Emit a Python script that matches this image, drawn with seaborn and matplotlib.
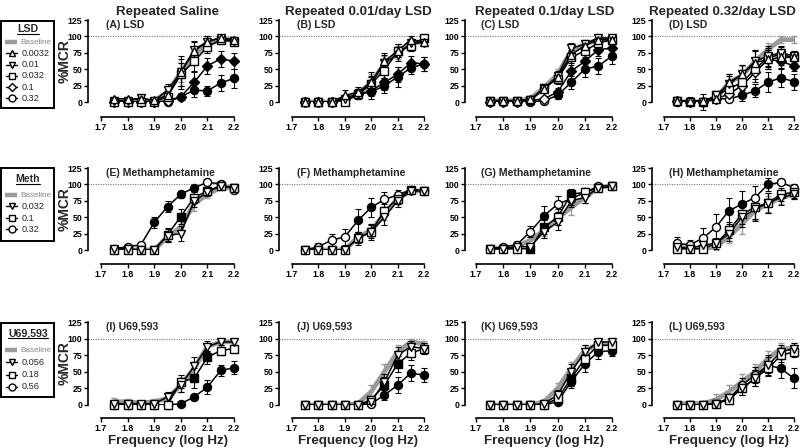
import matplotlib
matplotlib.use("Agg")
import matplotlib.pyplot as plt
import seaborn as sns

sns.set_theme(style="ticks")
plt.rcParams["font.family"] = ["Liberation Sans", "DejaVu Sans"]
plt.rcParams["font.weight"] = "bold"
plt.rcParams["axes.labelweight"] = "bold"

# ---------------- data ----------------
FREQ = [1.75, 1.80, 1.85, 1.90, 1.95, 2.00, 2.05, 2.10, 2.15, 2.20]
XTICKS = [1.7, 1.8, 1.9, 2.0, 2.1, 2.2]
XTICKLABELS = ["1.7", "1.8", "1.9", "2.0", "2.1", "2.2"]
YTICKS = [0, 25, 50, 75, 100, 125]
COL_TITLES = ["Repeated Saline", "Repeated 0.01/day LSD",
              "Repeated 0.1/day LSD", "Repeated 0.32/day LSD"]
ROW_DRUGS = ["LSD", "Meth", "U69,593"]
PANEL_TITLES = [["(A) LSD", "(B) LSD", "(C) LSD", "(D) LSD"],
                ["(E) Methamphetamine", "(F) Methamphetamine",
                 "(G) Methamphetamine", "(H) Methamphetamine"],
                ["(I) U69,593", "(J) U69,593", "(K) U69,593", "(L) U69,593"]]
LSD_DOSES = ["0.0032", "0.01", "0.032", "0.1", "0.32"]
LSD_MARKERS = ["^", "v", "s", "D", "o"]
METH_DOSES = ["0.032", "0.1", "0.32"]
METH_MARKERS = ["v", "s", "o"]
U69_DOSES = ["0.056", "0.18", "0.56"]
U69_MARKERS = ["v", "s", "o"]

# Panel A
A_BASE = [2, 2, 2, 2, 15, 45, 72, 88, 95, 95]
A_BASE_ERR = [2, 2, 2, 3, 8, 15, 12, 8, 4, 4]
A_MEANS = [[5, 5, 4, 3, 10, 45, 78, 92, 98, 95],
           [2, 2, 6, 2, 18, 45, 80, 92, 98, 93],
           [0, 0, 0, 0, 8, 42, 62, 84, 95, 92],
           [0, 0, 0, 0, 2, 8, 30, 55, 66, 62],
           [0, 0, 0, 0, 0, 8, 18, 17, 29, 36]]
A_ERRS = [[3, 3, 3, 3, 8, 25, 15, 8, 4, 4],
          [2, 2, 4, 2, 10, 20, 12, 8, 3, 4],
          [0, 0, 0, 0, 6, 18, 15, 10, 4, 5],
          [0, 0, 0, 0, 2, 5, 15, 12, 12, 12],
          [0, 0, 0, 0, 0, 4, 10, 8, 12, 14]]
A_FILLED = [[], [], [], [5, 6, 7, 8, 9], [5, 6, 7, 8, 9]]

# Panel B
B_BASE = [0, 0, 0, 5, 12, 30, 58, 75, 90, 92]
B_BASE_ERR = [0, 0, 0, 4, 6, 12, 12, 10, 6, 5]
B_MEANS = [[0, 0, 0, 10, 15, 30, 62, 78, 95, 92],
           [0, 0, 0, 5, 12, 28, 60, 72, 90, 90],
           [0, 0, 0, 0, 12, 28, 48, 78, 85, 98],
           [0, 0, 0, 5, 12, 17, 30, 42, 60, 58],
           [0, 0, 0, 5, 12, 15, 25, 38, 52, 58]]
B_ERRS = [[0, 0, 0, 8, 8, 15, 12, 10, 5, 5],
          [0, 0, 0, 5, 8, 12, 12, 10, 5, 5],
          [0, 0, 0, 2, 8, 10, 12, 10, 8, 3],
          [0, 0, 0, 4, 8, 8, 12, 12, 10, 10],
          [0, 0, 0, 4, 8, 10, 12, 15, 10, 10]]
B_FILLED = [[], [], [], [5, 6, 7, 8, 9], [5, 6, 7, 8, 9]]

# Panel C
C_BASE = [2, 2, 2, 5, 22, 42, 78, 88, 95, 95]
C_BASE_ERR = [2, 2, 2, 3, 5, 8, 8, 5, 4, 3]
C_MEANS = [[2, 2, 2, 4, 20, 38, 72, 86, 95, 95],
           [2, 2, 2, 3, 20, 40, 82, 88, 98, 97],
           [2, 2, 2, 3, 22, 35, 68, 78, 90, 95],
           [0, 0, 0, 2, 5, 15, 47, 62, 80, 82],
           [0, 0, 0, 0, 2, 10, 30, 50, 55, 70]]
C_ERRS = [[2, 2, 2, 3, 5, 8, 10, 8, 4, 4],
          [2, 2, 2, 3, 5, 8, 8, 6, 3, 3],
          [2, 2, 2, 3, 5, 8, 12, 10, 6, 4],
          [0, 0, 0, 2, 3, 6, 12, 12, 10, 8],
          [0, 0, 0, 0, 2, 5, 10, 12, 12, 12]]
C_FILLED = [[], [], [], [5, 6, 7, 8, 9], [5, 6, 7, 8, 9]]

# Panel D
D_BASE = [0, 0, 0, 5, 30, 40, 62, 80, 95, 95]
D_BASE_ERR = [2, 2, 2, 5, 12, 15, 18, 10, 5, 5]
D_MEANS = [[2, 2, 2, 5, 30, 42, 60, 65, 68, 68],
           [2, 0, 0, 10, 28, 42, 62, 70, 75, 70],
           [2, 0, 0, 10, 20, 30, 50, 68, 72, 68],
           [2, 0, 0, 5, 12, 25, 45, 65, 62, 55],
           [0, 0, 0, 5, 5, 10, 17, 30, 37, 31]]
D_ERRS = [[3, 5, 3, 4, 12, 15, 18, 15, 12, 10],
          [3, 4, 12, 4, 12, 15, 18, 15, 10, 8],
          [3, 4, 3, 4, 10, 14, 15, 15, 12, 8],
          [3, 3, 3, 3, 8, 12, 15, 15, 10, 8],
          [0, 0, 0, 3, 5, 8, 10, 15, 14, 12]]
D_FILLED = [[], [], [], [8, 9], [5, 6, 7, 8, 9]]

# Panel E
E_BASE = [0, 0, 0, 0, 20, 35, 70, 85, 95, 95]
E_BASE_ERR = [2, 2, 2, 2, 8, 10, 10, 6, 4, 4]
E_MEANS = [[2, 2, 0, 0, 22, 25, 75, 88, 98, 95],
           [0, 0, 0, 0, 23, 51, 80, 90, 98, 95],
           [2, 5, 8, 42, 66, 85, 95, 103, 101, 92]]
E_ERRS = [[2, 2, 2, 2, 10, 12, 10, 6, 4, 5],
          [0, 0, 0, 0, 10, 12, 8, 6, 4, 5],
          [2, 2, 3, 8, 8, 5, 4, 3, 4, 5]]
E_FILLED = [[], [5], [3, 4, 5, 6]]

# Panel F
F_BASE = [0, 0, 0, 0, 20, 30, 55, 78, 90, 90]
F_BASE_ERR = [0, 0, 0, 2, 8, 10, 10, 8, 4, 4]
F_MEANS = [[0, 0, 0, 0, 18, 28, 50, 75, 90, 90],
           [0, 0, 0, 0, 18, 28, 60, 78, 92, 90],
           [0, 5, 15, 20, 45, 65, 77, 84, 92, 90]]
F_ERRS = [[0, 0, 0, 0, 10, 12, 12, 10, 4, 4],
          [0, 0, 0, 0, 8, 10, 10, 8, 4, 4],
          [0, 6, 10, 12, 18, 15, 12, 8, 4, 4]]
F_FILLED = [[], [], [4, 5]]

# Panel G
G_BASE = [2, 2, 5, 15, 30, 48, 65, 80, 95, 98]
G_BASE_ERR = [2, 2, 3, 5, 8, 10, 12, 8, 4, 3]
G_MEANS = [[2, 2, 5, 5, 28, 42, 75, 80, 95, 97],
           [2, 2, 2, 2, 35, 50, 85, 88, 95, 97],
           [2, 5, 8, 28, 52, 70, 78, 88, 97, 98]]
G_ERRS = [[2, 2, 3, 3, 10, 12, 10, 8, 3, 3],
          [2, 2, 2, 2, 10, 12, 8, 6, 3, 3],
          [2, 3, 5, 8, 15, 12, 10, 6, 3, 3]]
G_FILLED = [[], [3, 4, 6], [4]]

# Panel H
H_BASE = [5, 2, 2, 5, 20, 40, 60, 70, 80, 85]
H_BASE_ERR = [5, 3, 3, 5, 10, 15, 15, 12, 10, 8]
H_MEANS = [[5, 2, 8, 10, 25, 50, 62, 72, 80, 85],
           [2, 2, 2, 10, 30, 55, 65, 72, 85, 88],
           [10, 8, 18, 35, 60, 70, 80, 100, 103, 95]]
H_ERRS = [[5, 3, 6, 8, 12, 15, 18, 15, 12, 8],
          [3, 3, 3, 6, 12, 15, 18, 15, 10, 8],
          [10, 8, 15, 20, 20, 20, 18, 10, 3, 5]]
H_FILLED = [[], [], [4, 5, 7]]

# Panel I
I_BASE = [5, 5, 3, 5, 10, 30, 55, 88, 95, 95]
I_BASE_ERR = [6, 4, 3, 4, 6, 10, 10, 6, 4, 4]
I_MEANS = [[2, 2, 2, 2, 12, 30, 58, 88, 95, 95],
           [0, 0, 0, 0, 0, 35, 40, 72, 82, 85],
           [0, 0, 0, 0, 0, 2, 12, 27, 52, 56]]
I_ERRS = [[3, 3, 2, 2, 8, 10, 15, 8, 4, 4],
          [0, 0, 0, 0, 0, 10, 15, 10, 6, 5],
          [0, 0, 0, 0, 0, 2, 5, 10, 8, 10]]
I_FILLED = [[], [6, 7], [5, 6, 7, 8, 9]]

# Panel J
J_BASE = [0, 0, 0, 0, 2, 20, 50, 80, 95, 92]
J_BASE_ERR = [0, 0, 0, 0, 3, 10, 12, 10, 5, 5]
J_MEANS = [[0, 0, 0, 0, 0, 5, 35, 75, 88, 85],
           [0, 0, 0, 0, 0, 8, 30, 62, 78, 85],
           [0, 0, 0, 0, 0, 2, 15, 30, 48, 45]]
J_ERRS = [[0, 0, 0, 0, 0, 4, 12, 12, 8, 8],
          [0, 0, 0, 0, 0, 5, 12, 12, 10, 8],
          [0, 0, 0, 0, 0, 2, 8, 12, 12, 10]]
J_FILLED = [[], [6, 7], [6, 7, 8, 9]]

# Panel K
K_BASE = [0, 0, 0, 0, 5, 25, 55, 82, 92, 92]
K_BASE_ERR = [0, 0, 0, 0, 4, 8, 10, 8, 5, 5]
K_MEANS = [[0, 0, 0, 0, 2, 15, 50, 80, 95, 95],
           [0, 0, 0, 0, 0, 10, 40, 70, 90, 90],
           [0, 0, 0, 0, 0, 5, 35, 62, 80, 82]]
K_ERRS = [[0, 0, 0, 0, 2, 8, 12, 10, 5, 5],
          [0, 0, 0, 0, 0, 6, 12, 10, 6, 6],
          [0, 0, 0, 0, 0, 4, 10, 12, 10, 8]]
K_FILLED = [[], [6], [5, 6, 7, 8, 9]]

# Panel L
L_BASE = [2, 2, 2, 8, 20, 35, 50, 70, 85, 85]
L_BASE_ERR = [3, 3, 3, 8, 10, 12, 12, 12, 8, 8]
L_MEANS = [[0, 0, 0, 2, 10, 25, 40, 60, 80, 85],
           [0, 0, 0, 2, 8, 25, 40, 55, 75, 80],
           [0, 0, 0, 2, 10, 30, 45, 60, 55, 40]]
L_ERRS = [[0, 0, 0, 3, 6, 10, 12, 12, 10, 8],
          [0, 0, 0, 3, 6, 10, 12, 12, 10, 8],
          [0, 0, 0, 3, 6, 10, 12, 15, 15, 15]]
L_FILLED = [[], [], [8, 9]]

PANELS = [
    [(A_BASE, A_BASE_ERR, A_MEANS, A_ERRS, A_FILLED),
     (B_BASE, B_BASE_ERR, B_MEANS, B_ERRS, B_FILLED),
     (C_BASE, C_BASE_ERR, C_MEANS, C_ERRS, C_FILLED),
     (D_BASE, D_BASE_ERR, D_MEANS, D_ERRS, D_FILLED)],
    [(E_BASE, E_BASE_ERR, E_MEANS, E_ERRS, E_FILLED),
     (F_BASE, F_BASE_ERR, F_MEANS, F_ERRS, F_FILLED),
     (G_BASE, G_BASE_ERR, G_MEANS, G_ERRS, G_FILLED),
     (H_BASE, H_BASE_ERR, H_MEANS, H_ERRS, H_FILLED)],
    [(I_BASE, I_BASE_ERR, I_MEANS, I_ERRS, I_FILLED),
     (J_BASE, J_BASE_ERR, J_MEANS, J_ERRS, J_FILLED),
     (K_BASE, K_BASE_ERR, K_MEANS, K_ERRS, K_FILLED),
     (L_BASE, L_BASE_ERR, L_MEANS, L_ERRS, L_FILLED)],
]
ROW_DOSES = [LSD_DOSES, METH_DOSES, U69_DOSES]
ROW_MARKERS = [LSD_MARKERS, METH_MARKERS, U69_MARKERS]

# ---------------- layout (pixels) ----------------
W, H = 800, 448
GRAY = "#9a9a9a"
ROWS = [(20, 102, 117), (168, 250, 264), (322, 405, 418)]   # top(125), bottom(0), x-axis line
COLS = [(101, 234, 88), (292, 424, 279), (476, 612, 465), (664, 794, 652)]  # x1.7, x2.2, y-spine
TITLE_X = [168, 358, 545, 722]
PT = 72.0 / 100.0
MS = 5.8
MS_D = 5.0

fig = plt.figure(figsize=(W / 100, H / 100), dpi=100)


def fig_box(x0, y0, x1, y1):
    return [x0 / W, 1 - y1 / H, (x1 - x0) / W, (y1 - y0) / H]


for r, (top, bot, xax) in enumerate(ROWS):
    for c, (left, right, sx) in enumerate(COLS):
        ax = fig.add_axes(fig_box(left, top, right, bot))
        ax.patch.set_alpha(0)
        base, base_err, means, errs, filled = PANELS[r][c]
        # baseline
        ax.errorbar(FREQ, base, yerr=base_err, fmt="none", ecolor=GRAY,
                    elinewidth=1.0, capsize=2.5, capthick=1.0, zorder=1, clip_on=False)
        sns.lineplot(x=FREQ, y=base, ax=ax, color=GRAY, lw=3.4, zorder=2,
                     errorbar=None, legend=False)
        # doses (draw highest dose first so lower doses sit on top)
        for m, e, f, mk in reversed(list(zip(means, errs, filled, ROW_MARKERS[r]))):
            ax.errorbar(FREQ, m, yerr=e, fmt="none", ecolor="black",
                        elinewidth=0.8, capsize=2.5, capthick=0.8, zorder=3, clip_on=False)
            sns.lineplot(x=FREQ, y=m, ax=ax, color="black", lw=1.1, zorder=3,
                         errorbar=None, legend=False)
            ox = [FREQ[i] for i in range(len(FREQ)) if i not in f]
            oy = [m[i] for i in range(len(FREQ)) if i not in f]
            fx_ = [FREQ[i] for i in f]
            fy_ = [m[i] for i in f]
            ms = MS if mk != "D" else MS_D
            ax.plot(ox, oy, ls="none", marker=mk, mfc="white", mec="black",
                    ms=ms, mew=1.0, zorder=4, clip_on=False)
            if f:
                ax.plot(fx_, fy_, ls="none", marker=mk, mfc="black", mec="black",
                        ms=ms, mew=1.0, zorder=4, clip_on=False)
        ax.set_xlim(1.7, 2.2)
        ax.set_ylim(0, 125)
        # 100% reference line from y-spine to 2.2
        xs = 1.7 - (left - sx) / (right - left) * 0.5
        ax.plot([xs, 2.2], [100, 100], color="#777777", ls=(0, (1, 1.2)), lw=0.8,
                zorder=0, clip_on=False)
        for s in ["top", "right"]:
            ax.spines[s].set_visible(False)
        ax.spines["left"].set_position(("outward", (left - sx) * PT))
        ax.spines["bottom"].set_position(("outward", (xax - bot) * PT))
        ax.spines["left"].set_bounds(0, 125)
        ax.spines["bottom"].set_bounds(1.7, 2.2)
        for s in ["left", "bottom"]:
            ax.spines[s].set_linewidth(1.2)
            ax.spines[s].set_color("black")
        ax.set_xticks(XTICKS)
        ax.set_xticklabels(XTICKLABELS)
        ax.set_yticks(YTICKS)
        ax.tick_params(labelsize=6.3, length=3, width=1.0, pad=1.2, colors="black")
        ax.set_xlabel("")
        ax.set_ylabel("")
        ax.text(0.035, 118, PANEL_TITLES[r][c], transform=ax.get_yaxis_transform(),
                ha="left", va="center", fontsize=7.6, fontweight="bold")
        if r == 2:
            fig.text(((left + right) / 2) / W, 1 - 441 / H, "Frequency (log Hz)",
                     ha="center", va="center", fontsize=9.6, fontweight="bold")
        if r == 0:
            fig.text(TITLE_X[c] / W, 1 - 12 / H, COL_TITLES[c],
                     ha="center", va="center", fontsize=9.6, fontweight="bold")
    fig.text(65 / W, 1 - ((top + bot) / 2) / H, "%MCR", rotation=90,
             ha="center", va="center", fontsize=10, fontweight="bold")

# ---------------- legends ----------------
LEG_BOXES = [(1, 21, 54, 108), (1, 168, 54, 241), (1, 323, 54, 397)]
LEG_TITLE_Y = [29, 179, 333]
LEG_FIRST_Y = [42, 195, 350]
LEG_STEP = [11.3, 11.5, 12.3]

fig.canvas.draw()
renderer = fig.canvas.get_renderer()
for r, (x0, y0, x1, y1) in enumerate(LEG_BOXES):
    lax = fig.add_axes(fig_box(x0, y0, x1, y1))
    lax.set_xlim(x0, x1)
    lax.set_ylim(y1, y0)
    lax.set_xticks([])
    lax.set_yticks([])
    lax.patch.set_facecolor("white")
    for s in lax.spines.values():
        s.set_visible(True)
        s.set_linewidth(1.4)
        s.set_color("black")
    t = lax.text(28, LEG_TITLE_Y[r], ROW_DRUGS[r], ha="center", va="center",
                 fontsize=7.6, fontweight="bold")
    bb = t.get_window_extent(renderer=renderer)
    tw = bb.width
    lax.plot([28 - tw / 2, 28 + tw / 2], [LEG_TITLE_Y[r] + 5, LEG_TITLE_Y[r] + 5],
             color="black", lw=0.8)
    y = LEG_FIRST_Y[r]
    lax.plot([5, 17], [y, y], color=GRAY, lw=3.2, solid_capstyle="butt")
    lax.text(20.5, y, "Baseline", ha="left", va="center", fontsize=5.9,
             color="#888888", fontweight="normal")
    for i, (d, mk) in enumerate(zip(ROW_DOSES[r], ROW_MARKERS[r])):
        yy = y + LEG_STEP[r] * (i + 1)
        lax.plot([6, 17], [yy, yy], color="black", lw=1.0)
        lax.plot([11.5], [yy], marker=mk, mfc="white", mec="black",
                 ms=5.0 if mk != "D" else 4.4, mew=1.0, ls="none")
        lax.text(21.5, yy, d, ha="left", va="center", fontsize=6.6, fontweight="normal")

fig.savefig("out.png", dpi=100)
